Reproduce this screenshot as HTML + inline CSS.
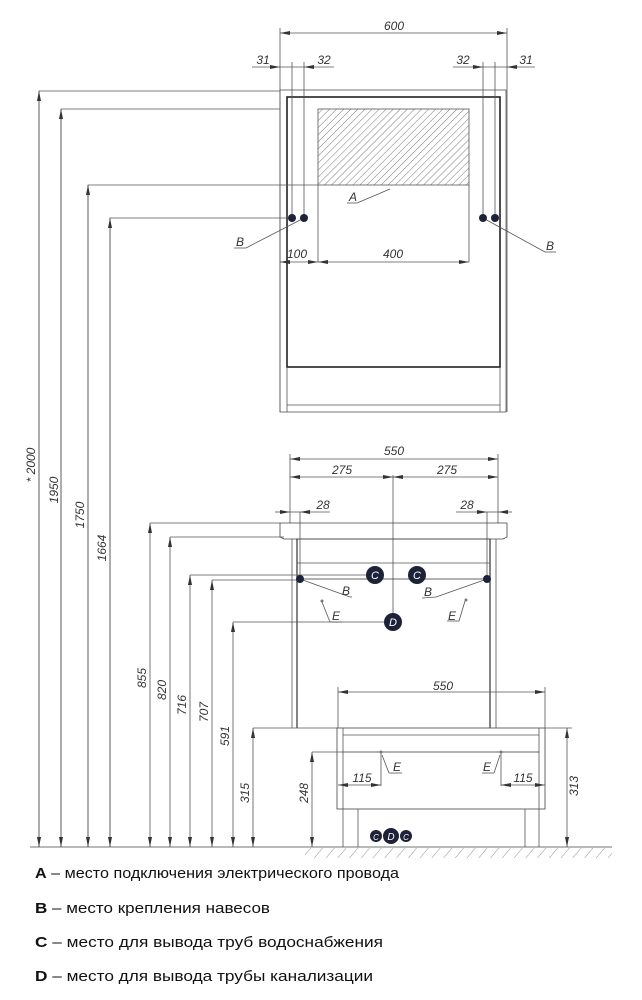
<!DOCTYPE html>
<html><head><meta charset="utf-8"><style>
html,body{margin:0;padding:0;background:#fff;}
svg{display:block;}
.d{font-family:"Liberation Sans",sans-serif;font-style:italic;font-size:12px;fill:#333;}
.l{font-family:"Liberation Sans","DejaVu Sans",sans-serif;font-size:15px;fill:#111;}
</style></head><body>
<svg width="642" height="1000" viewBox="0 0 642 1000" xmlns="http://www.w3.org/2000/svg">
<defs>
<marker id="a" viewBox="0 0 10 4" refX="10" refY="2" markerWidth="10" markerHeight="4" orient="auto-start-reverse" markerUnits="userSpaceOnUse"><path d="M0,0 L10,2 L0,4z" fill="#333"/></marker>
<pattern id="h" width="5" height="5" patternUnits="userSpaceOnUse" patternTransform="rotate(45)"><line x1="0" y1="0" x2="0" y2="5" stroke="#555" stroke-width="0.8"/></pattern>
<pattern id="g" width="9" height="9" patternUnits="userSpaceOnUse" patternTransform="rotate(40)"><line x1="0" y1="0" x2="0" y2="9" stroke="#777" stroke-width="0.8"/></pattern>
</defs>
<g stroke="#555" stroke-width="0.8" fill="none">
<!-- TOP VIEW -->
<line x1="280" y1="28" x2="280" y2="412"/><line x1="507" y1="28" x2="507" y2="412"/>
<line x1="280" y1="33" x2="507" y2="33" marker-start="url(#a)" marker-end="url(#a)"/>
<rect x="280" y="90" width="226" height="322"/>
<rect x="287" y="97" width="213" height="270" stroke="#222" stroke-width="1.6"/>
<line x1="287" y1="405" x2="500" y2="405"/><line x1="287" y1="367" x2="287" y2="412"/><line x1="500" y1="367" x2="500" y2="412"/>
<rect x="318" y="109" width="151" height="76" fill="url(#h)"/>
<line x1="292" y1="62" x2="292" y2="218"/><line x1="304" y1="62" x2="304" y2="218"/>
<line x1="483" y1="62" x2="483" y2="218"/><line x1="495" y1="62" x2="495" y2="218"/>
<line x1="252" y1="67" x2="280" y2="67" marker-end="url(#a)"/><line x1="280" y1="67" x2="304" y2="67"/>
<line x1="304" y1="67" x2="334" y2="67" marker-start="url(#a)"/>
<line x1="453" y1="67" x2="483" y2="67" marker-end="url(#a)"/><line x1="483" y1="67" x2="507" y2="67"/>
<line x1="507" y1="67" x2="535" y2="67" marker-start="url(#a)"/>
<line x1="280" y1="262" x2="318" y2="262" marker-start="url(#a)" marker-end="url(#a)"/>
<line x1="318" y1="262" x2="469" y2="262" marker-start="url(#a)" marker-end="url(#a)"/>
<line x1="318" y1="185" x2="318" y2="262"/><line x1="469" y1="185" x2="469" y2="262"/>
<line x1="390" y1="189" x2="357" y2="203"/><line x1="347" y1="203" x2="357" y2="203"/>
<line x1="304" y1="218" x2="246" y2="248"/><line x1="234" y1="248" x2="246" y2="248"/>
<line x1="483" y1="218" x2="545" y2="252"/><line x1="545" y1="252" x2="556" y2="252"/>
<!-- left verticals -->
<polyline points="280,91 39,91 39,847"/><polyline points="280,109 61,109 61,847"/>
<polyline points="318,185 88,185 88,847"/><polyline points="292,218 110,218 110,847"/>
<line x1="39" y1="91" x2="39" y2="847" marker-start="url(#a)" marker-end="url(#a)"/>
<line x1="61" y1="109" x2="61" y2="847" marker-start="url(#a)" marker-end="url(#a)"/>
<line x1="88" y1="185" x2="88" y2="847" marker-start="url(#a)" marker-end="url(#a)"/>
<line x1="110" y1="218" x2="110" y2="847" marker-start="url(#a)" marker-end="url(#a)"/>
<!-- FRONT VIEW -->
<line x1="290" y1="454" x2="290" y2="523"/><line x1="498" y1="454" x2="498" y2="523"/>
<line x1="290" y1="459" x2="498" y2="459" marker-start="url(#a)" marker-end="url(#a)"/>
<line x1="290" y1="477" x2="393" y2="477" marker-start="url(#a)" marker-end="url(#a)"/>
<line x1="393" y1="477" x2="498" y2="477" marker-start="url(#a)" marker-end="url(#a)"/>
<line x1="393" y1="475" x2="393" y2="622"/>
<line x1="275" y1="512" x2="290" y2="512" marker-end="url(#a)"/><line x1="290" y1="512" x2="300" y2="512"/>
<line x1="300" y1="512" x2="330" y2="512" marker-start="url(#a)"/><line x1="300" y1="512" x2="300" y2="579"/>
<line x1="456" y1="512" x2="487" y2="512" marker-end="url(#a)"/><line x1="487" y1="512" x2="498" y2="512"/>
<line x1="498" y1="512" x2="512" y2="512" marker-start="url(#a)"/><line x1="487" y1="512" x2="487" y2="579"/>
<path d="M280,523 H507 V537 L503,539 H284 L280,537 Z" stroke="#444"/>
<line x1="296" y1="539" x2="490" y2="539" stroke="#444"/>
<line x1="292" y1="539" x2="292" y2="728"/><line x1="297" y1="539" x2="297" y2="728" stroke="#333" stroke-width="1.2"/>
<line x1="490" y1="539" x2="490" y2="728" stroke="#333" stroke-width="1.2"/><line x1="496" y1="539" x2="496" y2="728"/>
<line x1="297" y1="563" x2="490" y2="563"/>
<line x1="297" y1="579" x2="487" y2="579" stroke="#333"/>
<line x1="300" y1="579" x2="350" y2="597"/><line x1="350" y1="597" x2="352" y2="597"/>
<line x1="487" y1="579" x2="436" y2="597"/><line x1="422" y1="598" x2="436" y2="597"/>
<line x1="322" y1="602" x2="330" y2="622"/><line x1="330" y1="622" x2="342" y2="622"/>
<line x1="465" y1="601" x2="459" y2="621"/><line x1="447" y1="621" x2="459" y2="621"/>
<line x1="150" y1="523" x2="280" y2="523"/><line x1="150" y1="523" x2="150" y2="847" marker-start="url(#a)" marker-end="url(#a)"/>
<line x1="170" y1="537" x2="284" y2="537"/><line x1="170" y1="537" x2="170" y2="847" marker-start="url(#a)" marker-end="url(#a)"/>
<line x1="190" y1="575" x2="375" y2="575"/><line x1="190" y1="575" x2="190" y2="847" marker-start="url(#a)" marker-end="url(#a)"/>
<line x1="212" y1="580" x2="300" y2="580"/><line x1="212" y1="580" x2="212" y2="847" marker-start="url(#a)" marker-end="url(#a)"/>
<line x1="233" y1="622" x2="393" y2="622"/><line x1="233" y1="622" x2="233" y2="847" marker-start="url(#a)" marker-end="url(#a)"/>
<line x1="253" y1="728" x2="337" y2="728"/><line x1="253" y1="728" x2="253" y2="847" marker-start="url(#a)" marker-end="url(#a)"/>
<!-- lower cabinet -->
<line x1="338" y1="687" x2="338" y2="728"/><line x1="545" y1="687" x2="545" y2="728"/>
<line x1="338" y1="692" x2="545" y2="692" marker-start="url(#a)" marker-end="url(#a)"/>
<rect x="337" y="728" width="208" height="81" stroke="#444"/>
<line x1="343" y1="728" x2="343" y2="809"/><line x1="539" y1="728" x2="539" y2="809"/>
<line x1="343" y1="735" x2="539" y2="735"/><line x1="343" y1="752" x2="539" y2="752" stroke="#333"/>
<line x1="343" y1="809" x2="343" y2="847"/><line x1="358" y1="809" x2="358" y2="847"/>
<line x1="525" y1="809" x2="525" y2="847"/><line x1="539" y1="809" x2="539" y2="847"/>
<line x1="545" y1="728" x2="572" y2="728"/><line x1="567" y1="728" x2="567" y2="847" marker-start="url(#a)" marker-end="url(#a)"/>
<line x1="312" y1="752" x2="343" y2="752"/><line x1="312" y1="752" x2="312" y2="847" marker-start="url(#a)" marker-end="url(#a)"/>
<line x1="381" y1="752" x2="381" y2="786"/><line x1="501" y1="752" x2="501" y2="786"/>
<line x1="338" y1="785" x2="381" y2="785" marker-start="url(#a)" marker-end="url(#a)"/>
<line x1="501" y1="785" x2="545" y2="785" marker-start="url(#a)" marker-end="url(#a)"/>
<line x1="382" y1="755" x2="389" y2="773"/><line x1="389" y1="773" x2="402" y2="773"/>
<line x1="500" y1="755" x2="494" y2="773"/><line x1="482" y1="773" x2="494" y2="773"/>
<!-- ground -->
<line x1="30" y1="847" x2="612" y2="847" stroke="#444"/>
<rect x="305" y="848" width="307" height="10" fill="url(#g)" stroke="none"/>
</g>
<g fill="#1e2238">
<circle cx="292" cy="218" r="4"/><circle cx="304" cy="218" r="4"/><circle cx="483" cy="218" r="4"/><circle cx="495" cy="218" r="4"/>
<circle cx="300" cy="579" r="4"/><circle cx="487" cy="579" r="4"/>
<circle cx="375" cy="575" r="9"/><circle cx="417" cy="575" r="9"/><circle cx="393" cy="622" r="9"/>
<circle cx="376" cy="836" r="6"/><circle cx="406" cy="836" r="6"/><circle cx="391" cy="836" r="8"/>
</g>
<circle cx="322" cy="601" r="1.5" fill="#777"/><circle cx="466" cy="600" r="1.5" fill="#777"/>
<circle cx="381" cy="752" r="1.5" fill="#777"/><circle cx="501" cy="752" r="1.5" fill="#777"/>
<g font-family="Liberation Sans,sans-serif" font-style="italic" font-size="11" fill="#fff" text-anchor="middle">
<text x="375" y="579">C</text><text x="417" y="579">C</text><text x="393" y="626">D</text>
<text x="376" y="840" font-size="8">C</text><text x="391" y="840" font-size="10">D</text><text x="406" y="840" font-size="8">C</text>
</g>
<g class="d" text-anchor="middle">
<text x="394" y="30">600</text>
<text x="263" y="64">31</text><text x="324" y="64">32</text><text x="463" y="64">32</text><text x="526" y="64">31</text>
<text x="297" y="258">100</text><text x="393" y="258">400</text>
<text x="353" y="201">A</text><text x="240" y="246">B</text><text x="550" y="250">B</text>
<text x="394" y="455">550</text><text x="342" y="474">275</text><text x="447" y="474">275</text>
<text x="323" y="509">28</text><text x="467" y="509">28</text>
<text x="346" y="595">B</text><text x="428" y="596">B</text>
<text x="336" y="620">E</text><text x="452" y="620">E</text>
<text x="443" y="690">550</text>
<text x="362" y="782">115</text><text x="523" y="782">115</text>
<text x="397" y="771">E</text><text x="487" y="771">E</text>
</g>
<g class="d" text-anchor="middle">
<text transform="translate(35,465) rotate(-90)">* 2000</text>
<text transform="translate(58,490) rotate(-90)">1950</text>
<text transform="translate(84,515) rotate(-90)">1750</text>
<text transform="translate(106,548) rotate(-90)">1664</text>
<text transform="translate(146,678) rotate(-90)">855</text>
<text transform="translate(166,690) rotate(-90)">820</text>
<text transform="translate(186,705) rotate(-90)">716</text>
<text transform="translate(208,712) rotate(-90)">707</text>
<text transform="translate(229,736) rotate(-90)">591</text>
<text transform="translate(249,793) rotate(-90)">315</text>
<text transform="translate(308,793) rotate(-90)">248</text>
<text transform="translate(578,786) rotate(-90)">313</text>
</g>
<g class="l">
<text x="35" y="878" textLength="364" lengthAdjust="spacingAndGlyphs"><tspan font-weight="bold">A</tspan> – место подключения электрического провода</text>
<text x="35" y="913" textLength="235" lengthAdjust="spacingAndGlyphs"><tspan font-weight="bold">B</tspan> – место крепления навесов</text>
<text x="35" y="947" textLength="348" lengthAdjust="spacingAndGlyphs"><tspan font-weight="bold">C</tspan> – место для вывода труб водоснабжения</text>
<text x="35" y="981" textLength="338" lengthAdjust="spacingAndGlyphs"><tspan font-weight="bold">D</tspan> – место для вывода трубы канализации</text>
</g>
</svg>
</body></html>
